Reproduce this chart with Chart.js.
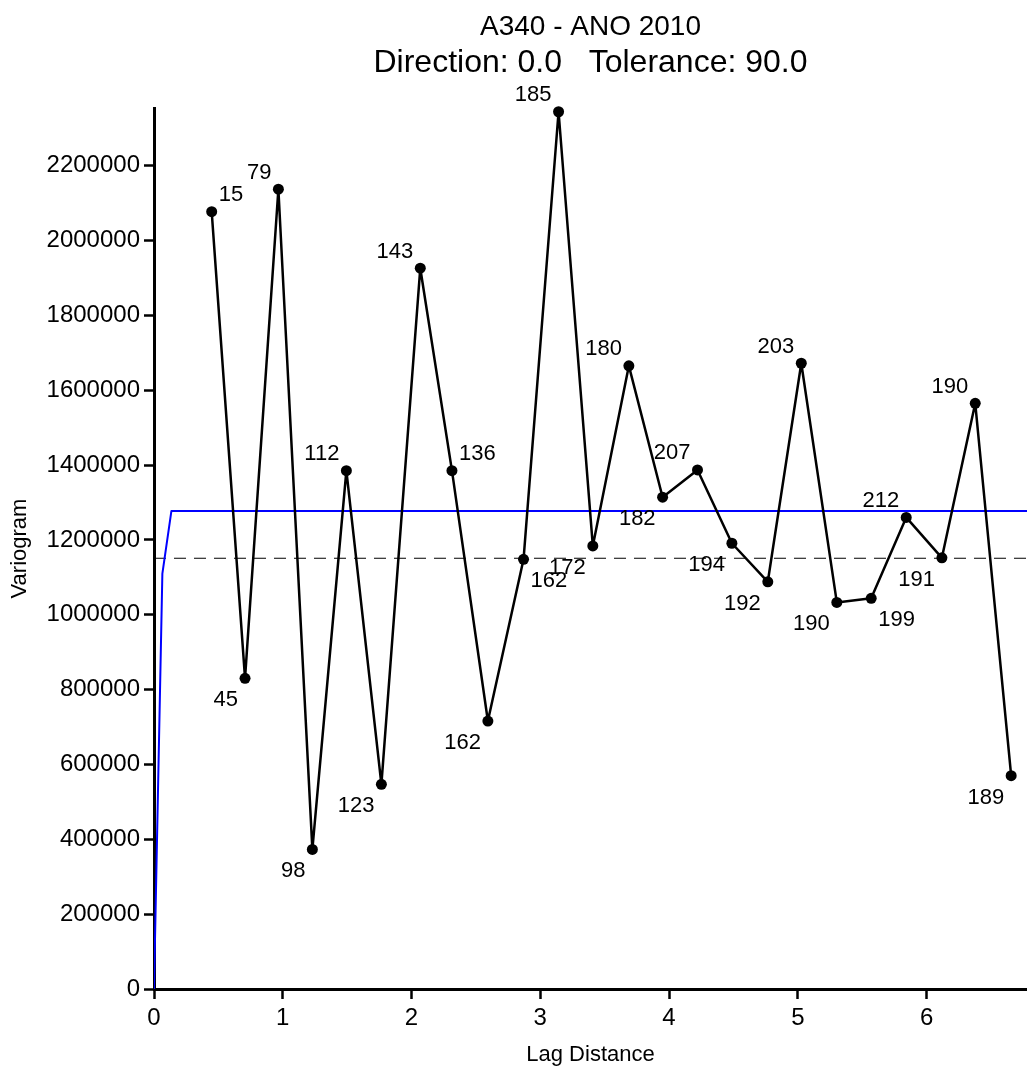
<!DOCTYPE html>
<html>
<head>
<meta charset="utf-8">
<script src="https://cdn.jsdelivr.net/npm/chart.js@4.4.0/dist/chart.umd.min.js"></script>
<style>
  body { margin: 0; background: #fff; }
  canvas { display: block; }
</style>
</head>
<body>
<canvas id="variogram" width="1027" height="1068"></canvas>
<script>
// experimental variogram (lag, value, number of pairs)
const lags = [0.448, 0.707, 0.966, 1.230, 1.494, 1.766, 2.068, 2.314, 2.593, 2.870, 3.142, 3.408,
  3.688, 3.950, 4.221, 4.488, 4.767, 5.027, 5.303, 5.570, 5.842, 6.119, 6.378, 6.657];
const gammaValues = [2077000, 830000, 2137000, 373000, 1385000, 547000, 1926000, 1385000, 716000, 1148000, 2344000, 1184000,
  1665000, 1314000, 1387000, 1191000, 1088000, 1672000, 1033000, 1044000, 1260000, 1152000, 1565000, 570000];
const pairCounts = ["15", "45", "79", "98", "112", "123", "143", "136", "162", "162", "185", "172",
  "180", "182", "207", "194", "192", "203", "190", "199", "212", "191", "190", "189"];

// fitted model (blue) and sample variance (dashed)
const modelLags = [0, 0.065, 0.135, 6.78];
const modelValues = [0, 1110000, 1277000, 1277000];
const varianceLags = [0, 6.78];
const varianceValue = 1151000;

// tick labels
const xTicks = [0, 1, 2, 3, 4, 5, 6];
const yTicks = [0, 200000, 400000, 600000, 800000, 1000000, 1200000, 1400000, 1600000, 1800000, 2000000, 2200000];

// where each pair count sits round its point: u/d + l/r
const labelPlace = ["ur", "dl", "ul", "dl", "ul", "dl", "ul", "ur", "dl", "dr", "ul", "dl",
  "ul", "dl", "ul", "dl", "dl", "ul", "dl", "dr", "ul", "dl", "ul", "dl"];

const FONT = '"Liberation Sans", Arial, sans-serif';
Chart.defaults.font.family = FONT;
Chart.defaults.color = "#000";

const pairLabels = {
  id: "pairLabels",
  afterDatasetsDraw(chart) {
    const meta = chart.getDatasetMeta(0);
    const ctx = chart.ctx;
    ctx.save();
    ctx.font = "22px " + FONT;
    ctx.fillStyle = "#000";
    ctx.textBaseline = "alphabetic";
    meta.data.forEach((pt, i) => {
      const place = labelPlace[i];
      const left = place[1] === "l";
      ctx.textAlign = left ? "right" : "left";
      const x = pt.x + (left ? -7 : 7);
      const y = place[0] === "u" ? pt.y - 10.5 : pt.y + 28;
      ctx.fillText(pairCounts[i], x, y);
    });
    ctx.restore();
  },
};

new Chart(document.getElementById("variogram"), {
  type: "line",
  data: {
    datasets: [
      {
        data: lags.map((x, i) => ({ x: x, y: gammaValues[i] })),
        borderColor: "#000",
        borderWidth: 2.5,
        borderJoinStyle: "round",
        pointRadius: 5.5,
        pointBackgroundColor: "#000",
        pointBorderColor: "#000",
        pointBorderWidth: 0,
        tension: 0,
        clip: false,
      },
      {
        data: modelLags.map((x, i) => ({ x: x, y: modelValues[i] })),
        borderColor: "#0000ff",
        borderWidth: 2,
        borderJoinStyle: "round",
        pointRadius: 0,
        tension: 0,
      },
      {
        data: varianceLags.map((x) => ({ x: x, y: varianceValue })),
        borderColor: "#000",
        borderWidth: 1.2,
        borderDash: [12, 8],
        pointRadius: 0,
      },
    ],
  },
  options: {
    responsive: false,
    animation: false,
    layout: { padding: 0, autoPadding: false },
    scales: {
      x: {
        type: "linear",
        min: 0,
        max: 6.78,
        afterBuildTicks: (s) => { s.ticks = xTicks.map((v) => ({ value: v })); },
        afterFit: (s) => { s.height = 79; s.paddingLeft = 0; s.paddingRight = 0; },
        ticks: { font: { size: 24 }, color: "#000", padding: 5 },
        grid: { drawOnChartArea: false, tickLength: 10, tickWidth: 2.5, tickColor: "#000" },
        border: { color: "#000", width: 3 },
        title: { display: true, text: "Lag Distance", font: { size: 22 }, color: "#000", padding: { top: 0, bottom: 0 } },
      },
      y: {
        min: 0,
        max: 2354000,
        afterBuildTicks: (s) => { s.ticks = yTicks.map((v) => ({ value: v })); },
        afterFit: (s) => { s.width = 154; },
        ticks: { font: { size: 24 }, color: "#000", padding: 4, callback: (v) => String(v) },
        grid: { drawOnChartArea: false, tickLength: 10, tickWidth: 2.5, tickColor: "#000" },
        border: { color: "#000", width: 3 },
        title: { display: true, text: "Variogram", font: { size: 22 }, color: "#000", padding: { top: 7, bottom: 0 } },
      },
    },
    plugins: {
      legend: { display: false },
      tooltip: { enabled: false },
      title: {
        display: true,
        text: "A340 - ANO 2010",
        fullSize: false,
        color: "#000",
        font: { size: 28, weight: "normal" },
        padding: { top: 10, bottom: 0 },
      },
      subtitle: {
        display: true,
        text: "Direction: 0.0   Tolerance: 90.0",
        fullSize: false,
        color: "#000",
        font: { size: 32, weight: "normal" },
        padding: { top: 0, bottom: 26 },
      },
    },
  },
  plugins: [pairLabels],
});
</script>
</body>
</html>
